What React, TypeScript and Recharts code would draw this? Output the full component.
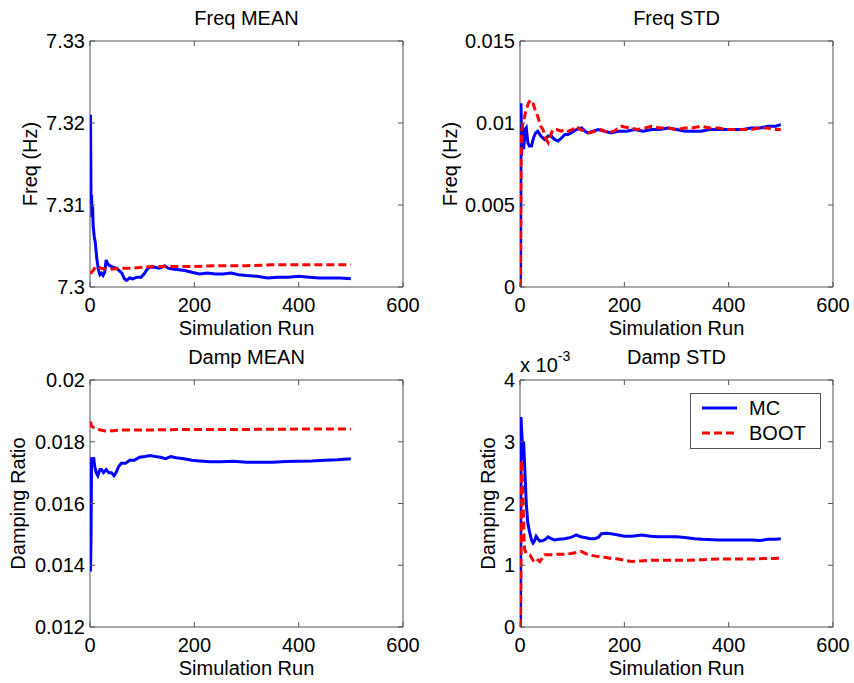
import React from 'react';
import { LineChart, Line, XAxis, YAxis, ReferenceArea } from 'recharts';

type Pt = [number, number];

const FONT = '"Liberation Sans", Arial, sans-serif';

// ---- shared x axis ----
const runTicks = [0, 200, 400, 600];
const runTickLabels = ['0', '200', '400', '600'];

// ---- tick definitions ----
const freqMeanTicks = [7.3, 7.31, 7.32, 7.33];
const freqMeanTickLabels = ['7.3', '7.31', '7.32', '7.33'];
const freqStdTicks = [0, 0.005, 0.01, 0.015];
const freqStdTickLabels = ['0', '0.005', '0.01', '0.015'];
const dampMeanTicks = [0.012, 0.014, 0.016, 0.018, 0.02];
const dampMeanTickLabels = ['0.012', '0.014', '0.016', '0.018', '0.02'];
const dampStdTicks = [0, 0.001, 0.002, 0.003, 0.004];
const dampStdTickLabels = ['0', '1', '2', '3', '4'];

// ---- Freq MEAN ----
const freqMeanMC: Pt[] = [
  [1, 7.321], [2, 7.31], [3, 7.3112], [4, 7.3085], [5, 7.3098], [6, 7.3075], [8, 7.3062],
  [10, 7.3055], [13, 7.3035], [16, 7.3021], [19, 7.3015], [22, 7.3017], [25, 7.3014],
  [28, 7.3018], [31, 7.3033], [34, 7.3028], [38, 7.3026], [44, 7.3024], [51, 7.3023],
  [56, 7.302], [61, 7.3017], [66, 7.301], [70, 7.3008], [76, 7.3011], [82, 7.301],
  [90, 7.3012], [98, 7.3012], [104, 7.3016], [110, 7.3022], [115, 7.3024], [124, 7.3024],
  [132, 7.3023], [138, 7.3024], [143, 7.3026], [150, 7.3023], [158, 7.3022], [170, 7.3021],
  [182, 7.302], [195, 7.3018], [210, 7.3016], [225, 7.3017], [240, 7.3016], [255, 7.3016],
  [270, 7.3017], [285, 7.3015], [300, 7.3014], [320, 7.3013], [340, 7.3011], [360, 7.3012],
  [380, 7.3012], [400, 7.3013], [420, 7.3012], [440, 7.3011], [460, 7.3011], [480, 7.3011],
  [500, 7.301],
];
const freqMeanBoot: Pt[] = [
  [1, 7.3016], [3, 7.3018], [6, 7.302], [10, 7.3024], [15, 7.3025], [20, 7.3023], [30, 7.3022],
  [45, 7.3022], [60, 7.3023], [80, 7.3023], [100, 7.3024], [125, 7.3025], [150, 7.3025],
  [200, 7.3025], [250, 7.3026], [300, 7.3026], [350, 7.3027], [400, 7.3027], [450, 7.3027],
  [500, 7.3027],
];

// ---- Freq STD ----
const freqStdMC: Pt[] = [
  [1, 0], [2, 0.0112], [3, 0.008], [4, 0.0092], [5, 0.0098], [7, 0.0084], [10, 0.0096],
  [12, 0.0097], [15, 0.0088], [18, 0.0086], [22, 0.0086], [26, 0.0091], [30, 0.0094],
  [34, 0.0095], [40, 0.0092], [47, 0.009], [54, 0.0092], [60, 0.0092], [66, 0.009],
  [73, 0.0089], [80, 0.0091], [86, 0.0093], [92, 0.0093], [98, 0.0094], [108, 0.0096],
  [118, 0.0097], [125, 0.0095], [130, 0.0094], [140, 0.0095], [150, 0.0096], [162, 0.0095],
  [175, 0.0094], [188, 0.0095], [205, 0.0095], [220, 0.0096], [236, 0.0095], [252, 0.0096],
  [268, 0.0096], [284, 0.0097], [300, 0.0096], [316, 0.0095], [330, 0.0095], [347, 0.0095],
  [364, 0.0096], [380, 0.0096], [396, 0.0096], [411, 0.0096], [427, 0.0096], [443, 0.0097],
  [460, 0.0097], [475, 0.0098], [490, 0.0098], [500, 0.0099],
];
const freqStdBoot: Pt[] = [
  [1, 0], [2, 0.0078], [3, 0.0095], [5, 0.0099], [8, 0.0103], [12, 0.0108], [16, 0.0112],
  [20, 0.0114], [25, 0.0112], [30, 0.0107], [34, 0.0104], [40, 0.0098], [44, 0.0096],
  [50, 0.009], [54, 0.0088], [58, 0.0092], [63, 0.0096], [70, 0.0096], [79, 0.0095],
  [86, 0.0096], [92, 0.0095], [100, 0.0096], [108, 0.0098], [116, 0.0096], [124, 0.0095],
  [133, 0.0094], [143, 0.0095], [155, 0.0096], [169, 0.0094], [180, 0.0095], [194, 0.0098],
  [210, 0.0097], [225, 0.0096], [240, 0.0097], [252, 0.0098], [268, 0.0097], [284, 0.0097],
  [300, 0.0096], [316, 0.0097], [330, 0.0097], [347, 0.0098], [364, 0.0097], [380, 0.0097],
  [396, 0.0096], [411, 0.0096], [427, 0.0096], [443, 0.0096], [460, 0.0097], [475, 0.0097],
  [490, 0.0096], [500, 0.0096],
];

// ---- Damp MEAN ----
const dampMeanMC: Pt[] = [
  [1, 0.0138], [2, 0.015], [3, 0.0175], [5, 0.0173], [7, 0.0175], [9, 0.0172], [12, 0.017],
  [15, 0.0169], [19, 0.0171], [22, 0.0171], [26, 0.017], [31, 0.0171], [36, 0.017],
  [41, 0.017], [46, 0.0169], [50, 0.017], [55, 0.0172], [60, 0.0173], [68, 0.0173],
  [76, 0.0174], [85, 0.0174], [95, 0.0175], [105, 0.01752], [115, 0.01755], [125, 0.01752],
  [135, 0.0175], [145, 0.01745], [155, 0.01752], [165, 0.01748], [180, 0.01745], [195, 0.0174],
  [210, 0.01738], [230, 0.01735], [250, 0.01735], [275, 0.01737], [300, 0.01734],
  [325, 0.01734], [350, 0.01734], [375, 0.01736], [400, 0.01737], [425, 0.01738],
  [450, 0.0174], [475, 0.01742], [500, 0.01745],
];
const dampMeanBoot: Pt[] = [
  [1, 0.01865], [3, 0.0185], [6, 0.01847], [10, 0.01844], [20, 0.01838], [30, 0.01835],
  [45, 0.01836], [60, 0.01838], [100, 0.01838], [150, 0.01839], [200, 0.0184], [300, 0.0184],
  [400, 0.01841], [500, 0.01841],
];

// ---- Damp STD ----
const dampStdMC: Pt[] = [
  [1, 0], [2, 0.0034], [3, 0.0032], [5, 0.0029], [6, 0.0027], [7, 0.003], [9, 0.0026],
  [12, 0.002], [15, 0.00168], [18, 0.00155], [22, 0.00141], [25, 0.00136], [28, 0.0014],
  [31, 0.00147], [35, 0.00142], [38, 0.00139], [44, 0.0014], [50, 0.00143], [54, 0.00146],
  [60, 0.00143], [66, 0.00141], [75, 0.00142], [85, 0.00143], [92, 0.00144], [100, 0.00146],
  [108, 0.00149], [116, 0.00146], [124, 0.00145], [135, 0.00143], [143, 0.00143],
  [150, 0.00145], [156, 0.00151], [165, 0.00152], [175, 0.00151], [188, 0.00149],
  [200, 0.00147], [215, 0.00147], [233, 0.00149], [250, 0.00147], [265, 0.00146],
  [285, 0.00146], [300, 0.00146], [316, 0.00145], [335, 0.00143], [350, 0.00142],
  [380, 0.00141], [410, 0.00141], [443, 0.00141], [460, 0.0014], [475, 0.00142],
  [490, 0.00142], [500, 0.00143],
];
const dampStdBoot: Pt[] = [
  [1, 0], [2, 0.0012], [3, 0.0027], [4, 0.0025], [6, 0.00195], [8, 0.0014], [9, 0.00125],
  [12, 0.00119], [16, 0.00118], [19, 0.00117], [22, 0.00112], [25, 0.00108], [28, 0.0011],
  [31, 0.00112], [35, 0.00108], [38, 0.00106], [43, 0.00112], [47, 0.00117], [60, 0.00117],
  [73, 0.00118], [85, 0.00118], [98, 0.00119], [110, 0.00121], [118, 0.00122], [128, 0.00118],
  [137, 0.00116], [150, 0.00114], [162, 0.00113], [175, 0.00111], [188, 0.0011],
  [200, 0.00108], [214, 0.00106], [230, 0.00107], [252, 0.00108], [280, 0.00108],
  [316, 0.00108], [350, 0.00109], [380, 0.0011], [410, 0.0011], [443, 0.0011],
  [470, 0.00111], [490, 0.00111], [500, 0.00112],
];

const AX = '#555555';
const LW = 3;

type PanelProps = {
  left: number;
  top: number;
  width: number;
  height: number;
  plot: [number, number, number, number]; // l, t, r, b in chart coords
  mc: Pt[];
  boot: Pt[];
  yTicks: number[];
  yLabels: string[];
};

function Panel({ left, top, width, height, plot, mc, boot, yTicks, yLabels }: PanelProps) {
  const [pl, pt, pr, pb] = plot;
  const yDomain = [yTicks[0], yTicks[yTicks.length - 1]];
  const toData = (pts: Pt[]) => pts.map(([run, v]) => ({ run, v }));

  const XTick = (p: any) => {
    const x = p.x;
    const i = runTicks.indexOf(p.payload.value);
    return (
      <g>
        <line x1={x} x2={x} y1={pb} y2={pb - 5} stroke={AX} strokeWidth={1} />
        <line x1={x} x2={x} y1={pt} y2={pt + 5} stroke={AX} strokeWidth={1} />
        <text x={x} y={pb + 25} textAnchor="middle" fontSize={20} fontFamily={FONT} fill="#000">
          {runTickLabels[i]}
        </text>
      </g>
    );
  };
  const YTick = (p: any) => {
    const y = p.y;
    const i = yTicks.indexOf(p.payload.value);
    return (
      <g>
        <line x1={pl} x2={pl + 5} y1={y} y2={y} stroke={AX} strokeWidth={1} />
        <line x1={pr - 5} x2={pr} y1={y} y2={y} stroke={AX} strokeWidth={1} />
        <text x={pl - 5} y={y + 7} textAnchor="end" fontSize={20} fontFamily={FONT} fill="#000">
          {yLabels[i]}
        </text>
      </g>
    );
  };

  return (
    <div style={{ position: 'absolute', left, top, width, height }}>
      <LineChart width={width} height={height} margin={{ top: pt, right: width - pr, bottom: 0, left: 0 }}>
        <XAxis
          dataKey="run"
          type="number"
          domain={[0, 600]}
          ticks={runTicks}
          interval={0}
          height={height - pb}
          tick={XTick}
          tickLine={false}
          axisLine={false}
          allowDataOverflow
        />
        <YAxis
          type="number"
          domain={yDomain}
          ticks={yTicks}
          interval={0}
          width={pl}
          tick={YTick}
          tickLine={false}
          axisLine={false}
          allowDataOverflow
        />
        <ReferenceArea
          x1={0}
          x2={600}
          y1={yDomain[0]}
          y2={yDomain[1]}
          fill="none"
          fillOpacity={0}
          stroke={AX}
          strokeWidth={1}
        />
        <Line
          data={toData(mc)}
          dataKey="v"
          type="linear"
          stroke="#0000ff"
          strokeWidth={LW}
          dot={false}
          activeDot={false}
          isAnimationActive={false}
        />
        <Line
          data={toData(boot)}
          dataKey="v"
          type="linear"
          stroke="#ff0000"
          strokeWidth={LW}
          strokeDasharray="8 4"
          dot={false}
          activeDot={false}
          isAnimationActive={false}
        />
      </LineChart>
    </div>
  );
}

export default function App() {
  const txt = { fontSize: 20, fontFamily: FONT, fill: '#000' } as const;
  return (
    <div style={{ position: 'absolute', left: 0, top: 0, width: 854, height: 683, background: '#fff', overflow: 'hidden' }}>
      <Panel left={0} top={0} width={427} height={340} plot={[90, 41, 403, 287]} mc={freqMeanMC} boot={freqMeanBoot} yTicks={freqMeanTicks} yLabels={freqMeanTickLabels} />
      <Panel left={427} top={0} width={427} height={340} plot={[93, 41, 406, 287]} mc={freqStdMC} boot={freqStdBoot} yTicks={freqStdTicks} yLabels={freqStdTickLabels} />
      <Panel left={0} top={340} width={427} height={343} plot={[90, 40, 403, 287]} mc={dampMeanMC} boot={dampMeanBoot} yTicks={dampMeanTicks} yLabels={dampMeanTickLabels} />
      <Panel left={427} top={340} width={427} height={343} plot={[93, 40, 406, 287]} mc={dampStdMC} boot={dampStdBoot} yTicks={dampStdTicks} yLabels={dampStdTickLabels} />
      <svg width={854} height={683} style={{ position: 'absolute', left: 0, top: 0, pointerEvents: 'none' }}>
        {/* titles */}
        <text x={246.5} y={25} textAnchor="middle" {...txt}>Freq MEAN</text>
        <text x={676.5} y={25} textAnchor="middle" {...txt}>Freq STD</text>
        <text x={246.5} y={364} textAnchor="middle" {...txt}>Damp MEAN</text>
        <text x={676.5} y={364} textAnchor="middle" {...txt}>Damp STD</text>
        {/* x labels */}
        <text x={246.5} y={335} textAnchor="middle" {...txt}>Simulation Run</text>
        <text x={676.5} y={335} textAnchor="middle" {...txt}>Simulation Run</text>
        <text x={246.5} y={675} textAnchor="middle" {...txt}>Simulation Run</text>
        <text x={676.5} y={675} textAnchor="middle" {...txt}>Simulation Run</text>
        {/* y labels */}
        <text x={37} y={164} textAnchor="middle" transform="rotate(-90 37 164)" {...txt}>Freq (Hz)</text>
        <text x={457} y={164} textAnchor="middle" transform="rotate(-90 457 164)" {...txt}>Freq (Hz)</text>
        <text x={25} y={503.5} textAnchor="middle" transform="rotate(-90 25 503.5)" {...txt}>Damping Ratio</text>
        <text x={495} y={503.5} textAnchor="middle" transform="rotate(-90 495 503.5)" {...txt}>Damping Ratio</text>
        {/* exponent */}
        <text x={520} y={372} {...txt}>
          x 10<tspan fontSize={14} dy={-11}>-3</tspan>
        </text>
        {/* legend */}
        <rect x={690.5} y={393.5} width={130} height={55} fill="#fff" stroke={AX} strokeWidth={1} />
        <line x1={702} x2={737} y1={408} y2={408} stroke="#0000ff" strokeWidth={LW} />
        <text x={749} y={415} {...txt}>MC</text>
        <line x1={702} x2={737} y1={433} y2={433} stroke="#ff0000" strokeWidth={LW} strokeDasharray="8 4" />
        <text x={749} y={440} {...txt}>BOOT</text>
      </svg>
    </div>
  );
}
